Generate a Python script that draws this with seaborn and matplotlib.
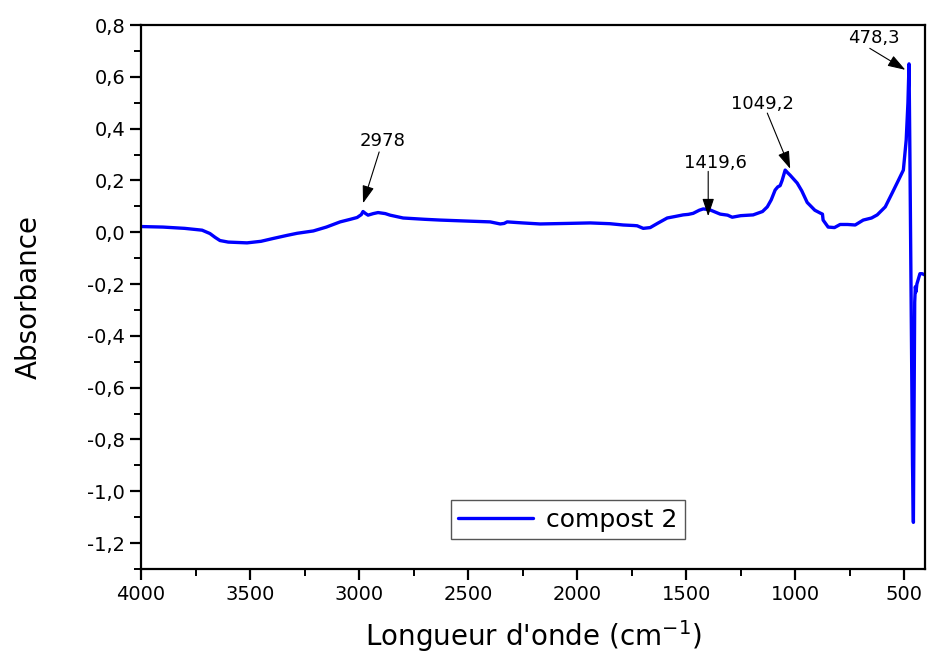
import matplotlib
matplotlib.use("Agg")
import matplotlib.pyplot as plt
from matplotlib.ticker import MultipleLocator, FuncFormatter
import seaborn as sns
import pandas as pd

# FTIR spectrum - compost 2
wavenumber = [4000, 3900, 3800, 3720, 3684, 3660, 3638, 3600, 3514, 3450, 3394, 3330,
              3284, 3210, 3150, 3087, 3040, 3009, 2990, 2982, 2970, 2959, 2935, 2913,
              2880, 2858, 2798, 2700, 2628, 2500, 2399, 2353, 2335, 2321, 2250, 2170,
              2050, 1940, 1850, 1789, 1740, 1725, 1697, 1665, 1630, 1587, 1550, 1514,
              1490, 1468, 1440, 1422, 1400, 1390, 1344, 1310, 1289, 1250, 1193, 1150,
              1128, 1110, 1092, 1080, 1069, 1060, 1046, 1035, 1023, 991, 970, 945,
              910, 885, 875, 872, 849, 820, 794, 760, 725, 688, 650, 624,
              587, 555, 527, 504, 491, 483, 478, 474, 468, 462, 458, 455,
              452, 449, 446, 442, 435, 428, 418, 405]
absorbance = [0.022, 0.020, 0.015, 0.008, -0.005, -0.020, -0.032, -0.038, -0.041, -0.035, -0.024, -0.012,
              -0.004, 0.005, 0.020, 0.040, 0.050, 0.057, 0.068, 0.080, 0.072, 0.066, 0.072, 0.076,
              0.072, 0.066, 0.055, 0.050, 0.047, 0.043, 0.040, 0.032, 0.034, 0.040, 0.036, 0.032,
              0.034, 0.036, 0.033, 0.028, 0.026, 0.025, 0.015, 0.018, 0.035, 0.055, 0.061, 0.067,
              0.069, 0.073, 0.085, 0.090, 0.088, 0.086, 0.070, 0.066, 0.058, 0.064, 0.067, 0.080,
              0.098, 0.125, 0.163, 0.175, 0.180, 0.200, 0.240, 0.230, 0.220, 0.190, 0.160, 0.115,
              0.085, 0.074, 0.070, 0.047, 0.020, 0.018, 0.030, 0.030, 0.028, 0.047, 0.055, 0.067,
              0.098, 0.152, 0.200, 0.240, 0.356, 0.500, 0.650, 0.300, -0.300, -0.900, -1.120, -0.700,
              -0.270, -0.210, -0.230, -0.200, -0.180, -0.160, -0.160, -0.165]

# peak labels: text, text position, arrow tail, arrow tip
peak_labels = ["2978", "1419,6", "1049,2", "478,3"]
peak_text = [(2894, 0.352), (1367, 0.266), (1151, 0.496), (638, 0.748)]
peak_tail = [(2908, 0.31), (1399, 0.235), (1128, 0.46), (658, 0.71)]
peak_tip = [(2982, 0.112), (1399, 0.062), (1023, 0.245), (495, 0.627)]

df = pd.DataFrame({"wavenumber": wavenumber, "absorbance": absorbance})

sns.set_style("ticks")
plt.rcParams['font.family'] = ['DejaVu Sans']
plt.rcParams['text.color'] = 'black'
plt.rcParams['axes.labelcolor'] = 'black'
plt.rcParams['xtick.color'] = 'black'
plt.rcParams['ytick.color'] = 'black'

fig = plt.figure(figsize=(9.31, 6.62), dpi=100)
ax = fig.add_axes([0.1515, 0.1405, 0.842, 0.8217])

sns.lineplot(data=df, x="wavenumber", y="absorbance", sort=False, estimator=None,
             color="#0000ff", linewidth=2.4, label="compost 2", ax=ax)

for txt, pos, tail, tip in zip(peak_labels, peak_text, peak_tail, peak_tip):
    ax.text(pos[0], pos[1], txt, ha="center", va="center", fontsize=13, color="black")
    ax.annotate("", xy=tip, xytext=tail,
                arrowprops=dict(arrowstyle="-|>,head_length=0.9,head_width=0.3", color="black",
                                lw=0.8, mutation_scale=12, shrinkA=0, shrinkB=0))

ax.set_xlim(4000, 405)
ax.set_ylim(-1.3, 0.8)
ax.xaxis.set_major_locator(MultipleLocator(500))
ax.xaxis.set_minor_locator(MultipleLocator(250))
ax.yaxis.set_major_locator(MultipleLocator(0.2))
ax.yaxis.set_minor_locator(MultipleLocator(0.1))


def comma_fmt(v, pos):
    s = f"{v:.1f}".replace(".", ",")
    return "0,0" if s == "-0,0" else s


ax.yaxis.set_major_formatter(FuncFormatter(comma_fmt))

for side in ["top", "right", "left", "bottom"]:
    ax.spines[side].set_linewidth(1.6)
    ax.spines[side].set_color("black")
ax.tick_params(which="major", direction="out", length=8, width=1.6, labelsize=14)
ax.tick_params(which="minor", direction="out", length=5, width=1.4)
ax.tick_params(top=False, right=False, which="both")

ax.set_xlabel("Longueur d'onde (cm$^{-1}$)", fontsize=20, labelpad=10)
ax.set_ylabel("Absorbance", fontsize=20, labelpad=32)

leg = ax.legend(loc="lower left", bbox_to_anchor=(0.395, 0.055), fontsize=18,
                frameon=True, fancybox=False, edgecolor="#555555", framealpha=1,
                handlelength=3.0, borderpad=0.3, handletextpad=0.5, borderaxespad=0)
leg.get_frame().set_linewidth(1.0)
for t in leg.get_texts():
    t.set_color("black")

fig.savefig("out.png", dpi=100)
